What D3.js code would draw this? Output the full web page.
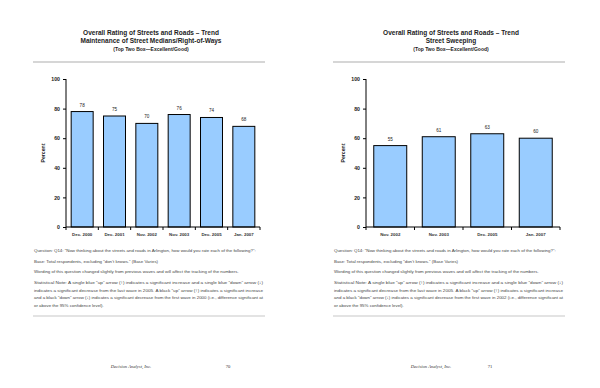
<!DOCTYPE html>
<html>
<head>
<meta charset="utf-8">
<script src="https://cdn.jsdelivr.net/npm/d3@7"></script>
<style>
  body { margin: 0; background: #fff; }
  svg { display: block; font-family: "Liberation Sans", Arial, sans-serif; }
</style>
</head>
<body>
<div id="chart"></div>
<script>
// data
var leftCategories = ["Dec. 2000", "Dec. 2001", "Nov. 2002", "Nov. 2003", "Dec. 2005", "Jan. 2007"];
var leftValues = [78, 75, 70, 76, 74, 68];
var rightCategories = ["Nov. 2002", "Nov. 2003", "Dec. 2005", "Jan. 2007"];
var rightValues = [55, 61, 63, 60];
var yTicks = [0, 20, 40, 60, 80, 100];

var leftTitles = ["Overall Rating of Streets and Roads \u2013 Trend",
                  "Maintenance of Street Medians/Right-of-Ways",
                  "(Top Two Box\u2014Excellent/Good)"];
var rightTitles = ["Overall Rating of Streets and Roads \u2013 Trend",
                   "Street Sweeping",
                   "(Top Two Box\u2014Excellent/Good)"];

var noteLines = function (firstWave) {
    return [
        ["Question:  Q14:  \u201cNow thinking about the streets and roads in Arlington, how would you rate each of the following?\u201d:", 0],
        ["Base:  Total respondents, excluding \u201cdon\u2019t knows.\u201d  (Base Varies)", 0],
        ["Wording of this question changed slightly from previous waves and will affect the tracking of the numbers.", 0],
        ["Statistical Note:   A single blue \u201cup\u201d arrow (\u2191) indicates a significant increase and a single blue \u201cdown\u201d arrow (\u2193)", 1],
        ["indicates a significant decrease from the last wave in 2005.  A black \u201cup\u201d arrow (\u2191) indicates a significant increase", 1],
        ["and a black \u201cdown\u201d arrow (\u2193) indicates a significant decrease from the first wave in " + firstWave + " (i.e., difference significant at", 1],
        ["or above the 95% confidence level).", 0]
    ];
};

var W = 600, H = 388;
var svg = d3.select("#chart").append("svg").attr("width", W).attr("height", H);

var draw_panel = function (ox, categories, values, titles, firstWave, page) {
    var g = svg.append("g").attr("transform", "translate(" + ox + ",0)");

    // titles
    var tY = [35, 43, 51];
    var tSize = [6.5, 6.5, 5];
    titles.forEach(function (t, i) {
        g.append("text").attr("x", 151).attr("y", tY[i])
            .attr("text-anchor", "middle")
            .style("font-size", tSize[i] + "px")
            .style("font-weight", "bold")
            .style("fill", "#222")
            .text(t);
    });
    g.append("line").attr("x1", 33).attr("x2", 265).attr("y1", 62).attr("y2", 62)
        .style("stroke", "#c8c8c8").style("stroke-width", 1.5);

    // chart
    var x0 = 66, x1 = 260, y0 = 227, y1 = 79;
    var x = d3.scaleBand().domain(categories).range([x0, x1]).paddingInner(0.32).paddingOuter(0.16);
    var y = d3.scaleLinear().domain([0, 100]).range([y0, y1]);

    g.selectAll("rect.bar").data(values).enter().append("rect")
        .attr("class", "bar")
        .attr("x", function (d, i) { return x(categories[i]); })
        .attr("y", function (d) { return y(d); })
        .attr("width", x.bandwidth())
        .attr("height", function (d) { return y0 - y(d); })
        .style("fill", "#99ccff").style("stroke", "#000").style("stroke-width", 1);

    g.selectAll("text.val").data(values).enter().append("text")
        .attr("class", "val")
        .attr("x", function (d, i) { return x(categories[i]) + x.bandwidth() / 2; })
        .attr("y", function (d) { return y(d) - 5; })
        .attr("text-anchor", "middle")
        .style("font-size", "4.6px").style("fill", "#222")
        .text(function (d) { return d; });

    var yAxis = g.append("g").attr("transform", "translate(" + x0 + ",0)")
        .call(d3.axisLeft(y).tickValues(yTicks).tickSize(3).tickPadding(3));
    yAxis.select(".domain").attr("d", "M0," + y0 + "V" + y1).style("stroke-width", 1);
    yAxis.selectAll("text").style("font-size", "5.2px").style("font-weight", "bold").style("fill", "#222");

    var xAxis = g.append("g").attr("transform", "translate(0," + y0 + ")")
        .call(d3.axisBottom(x).tickSize(0).tickPadding(6));
    xAxis.select(".domain").attr("d", "M" + x0 + ",0H" + x1).style("stroke-width", 1);
    xAxis.selectAll("text").style("font-size", "4.4px").style("font-weight", "bold").style("fill", "#333");
    // separator ticks between categories
    var seps = d3.range(categories.length + 1).map(function (i) { return x0 + i * x.step(); });
    g.selectAll("line.sep").data(seps).enter().append("line")
        .attr("class", "sep")
        .attr("x1", function (d) { return d; }).attr("x2", function (d) { return d; })
        .attr("y1", y0).attr("y2", y0 + 3)
        .style("stroke", "#000").style("stroke-width", 1);

    g.append("text")
        .attr("transform", "translate(45," + ((y0 + y1) / 2) + ") rotate(-90)")
        .attr("text-anchor", "middle")
        .style("font-size", "5.2px").style("font-weight", "bold").style("fill", "#222")
        .text("Percent");

    // notes
    var nY = [252, 263, 273, 284, 291.5, 299, 306.5];
    noteLines(firstWave).forEach(function (l, i) {
        var t = g.append("text").attr("x", 34).attr("y", nY[i])
            .style("font-size", "4.4px").style("fill", "#444").text(l[0]);
        if (l[1]) t.attr("textLength", 229).attr("lengthAdjust", "spacingAndGlyphs");
    });
    g.append("line").attr("x1", 33).attr("x2", 265).attr("y1", 316).attr("y2", 316)
        .style("stroke", "#c8c8c8").style("stroke-width", 1.2);

    // footer
    g.append("text").attr("x", 131).attr("y", 368).attr("text-anchor", "middle")
        .style("font-family", "'Liberation Serif', serif").style("font-style", "italic")
        .style("font-size", "4.6px").style("fill", "#333").text("Decision Analyst, Inc.");
    g.append("text").attr("x", page === 70 ? 228 : 190).attr("y", 368).attr("text-anchor", "middle")
        .style("font-family", "'Liberation Serif', serif")
        .style("font-size", "4.6px").style("fill", "#333").text(page);
};

draw_panel(0, leftCategories, leftValues, leftTitles, "2000", 70);
draw_panel(300, rightCategories, rightValues, rightTitles, "2002", 71);
</script>
</body>
</html>
